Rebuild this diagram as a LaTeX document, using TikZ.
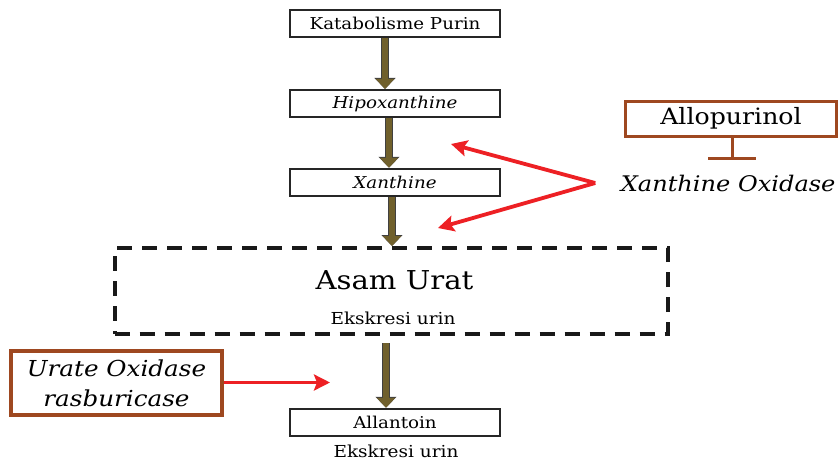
\documentclass[tikz,border=0pt]{standalone}
\usepackage{fontspec}
\setmainfont{DejaVu Serif}[FakeStretch=1.12]
\usetikzlibrary{arrows.meta,positioning}
\definecolor{olivebr}{RGB}{112,96,44}
\definecolor{enzred}{RGB}{237,32,36}
\definecolor{rustbr}{RGB}{158,72,32}
\tikzset{
  stage/.style={draw=black!85,line width=2.5pt,minimum width=210pt,minimum height=27pt,inner sep=0pt,font=\fontsize{16.3}{18}\selectfont},
  enzbox/.style={draw=rustbr,line width=3pt,inner sep=0pt,align=center},
  flow/.style={draw=olivebr,line width=6pt,-{Triangle[length=10pt,width=18pt]},
    preaction={draw=black!75,line width=8pt,-{Triangle[length=11pt,width=20.5pt]}}},
  redarrow/.style={draw=enzred,line width=3.8pt,-{Stealth[length=16pt,width=16pt,inset=3pt]}},
  note/.style={font=\fontsize{16.5}{18}\selectfont}
}
\begin{document}
\begin{tikzpicture}[x=1pt,y=-1pt,line join=miter]
  \useasboundingbox (0,0) rectangle (840,461);
  % main pathway
  \node[stage] (purin) at (395,23.5) {Katabolisme Purin};
  \node[stage] (hipo) at (395,103.7) {\itshape Hipoxanthine};
  \node[stage] (xan) at (395,182.5) {\itshape Xanthine};
  \node[draw=black!90,line width=4pt,dash pattern=on 15pt off 10pt,minimum width=553pt,minimum height=86pt] (urat) at (391,291) {};
  \node[font=\fontsize{26}{30}\selectfont] (asam) at (394.5,280) {Asam Urat};
  \node[note] (eks1) at (393,318) {Ekskresi urin};
  \node[stage] (allan) at (395,422.5) {Allantoin};
  \node[note] (eks2) at (396,451) {Ekskresi urin};
  \draw[flow] ([xshift=-10pt]purin.south) -- ([xshift=-10pt]hipo.north);
  \draw[flow] ([xshift=-6pt]hipo.south) -- ([xshift=-6pt]xan.north);
  \draw[flow] ([xshift=-3pt]xan.south) -- ([xshift=1pt]urat.north);
  \coordinate (below) at (386,343);
  \draw[flow] (below) -- ([xshift=-9pt]allan.north);
  % enzymes
  \node[enzbox,minimum width=211pt,minimum height=35pt,font=\fontsize{22.5}{26}\selectfont] (allo) at (731,118.5) {Allopurinol};
  \node[font=\fontsize{21.5}{24}\selectfont\itshape,anchor=east] (xo) at (839,183) {Xanthine Oxidase};
  \coordinate (bar) at (732,158);
  \draw[rustbr,line width=3pt] (allo.south -| bar) -- (bar);
  \draw[rustbr,line width=3pt] ([xshift=-24pt]bar) -- ([xshift=24pt]bar);
  \coordinate (tohipo) at (451,144);
  \coordinate (tourat) at (438,228);
  \draw[redarrow] ([xshift=-22pt]xo.west) -- (tohipo);
  \draw[redarrow] ([xshift=-22pt]xo.west) -- (tourat);
  \node[enzbox,line width=4pt,minimum width=211pt,minimum height=64pt,font=\fontsize{22}{30}\selectfont\itshape] (uox) at (116.5,383) {Urate Oxidase\\rasburicase};
  \coordinate (touric) at (330,382.5);
  \draw[redarrow] (uox.east |- touric) -- (touric);
\end{tikzpicture}
\end{document}
